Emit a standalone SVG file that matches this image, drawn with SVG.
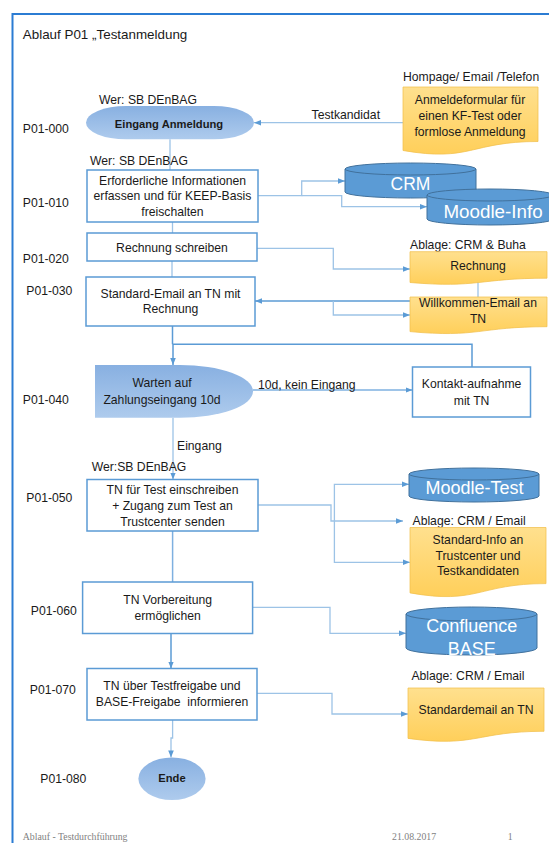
<svg xmlns="http://www.w3.org/2000/svg" width="549" height="843" viewBox="0 0 549 843">
<style>
text{font-family:"Liberation Sans",Arial,sans-serif;font-size:12.2px;fill:#1a1a1a}
.c{text-anchor:middle}
.b{font-weight:bold;font-size:11.2px}
.box{fill:#fff;stroke:#5B9BD5;stroke-width:1.5}
.doc{fill:url(#gy);stroke:#F2C04E;stroke-width:0.75}
.cyl{fill:#5B9BD5;stroke:#41719C;stroke-width:1}
.cyt{fill:#fff;font-size:18px;text-anchor:middle}
.term{fill:url(#gb);stroke:none}
.l{fill:none;stroke:#9DC3E6;stroke-width:1.3}
.m{fill:none;stroke:#5B9BD5;stroke-width:1.5}
.ah{marker-end:url(#arr)}
.foot{font-family:"Liberation Serif",serif;font-size:9.8px;fill:#7F7F7F}
</style>
<defs>
<linearGradient id="gb" x1="0" y1="0" x2="0" y2="1"><stop offset="0" stop-color="#88B0E1"/><stop offset="1" stop-color="#AECBED"/></linearGradient>
<linearGradient id="gy" x1="0" y1="0" x2="0" y2="1"><stop offset="0" stop-color="#FFE08E"/><stop offset="1" stop-color="#FFCF5A"/></linearGradient>
<marker id="arr" markerUnits="userSpaceOnUse" markerWidth="7" markerHeight="7" viewBox="0 0 10 10" refX="10" refY="5" orient="auto"><path d="M0,1 L10,5 L0,9 Z" fill="#5B9BD5"/></marker>
</defs>
<rect width="549" height="843" fill="#fff"/>
<path d="M12.5,843 V14 H549" fill="none" stroke="#2B7CD3" stroke-width="2"/>
<text x="22.8" y="39" style="font-size:13.4px">Ablauf P01 „Testanmeldung</text>

<g id="connectors">
<path class="l ah" d="M403,122.7 H254"/>
<path class="l" d="M170,139.3 V170"/>
<path class="l ah" d="M258,195.7 H301.7 V181 H345"/>
<path class="l ah" d="M301.7,195.7 H341.7 V206.7 H427"/>
<path class="l" d="M172.5,222 V233"/>
<path class="l" d="M172,261 V277"/>
<path class="l ah" d="M257,248.3 H333.3 V269 H410"/>
<path class="l" d="M478,281 V297"/>
<path class="m ah" d="M410,301 H255"/>
<path class="l ah" d="M333.3,301 V315 H410"/>
<path class="m" d="M172.5,326 V344.3"/>
<path class="m ah" d="M472,367 V344.3 H173 V365"/>
<path class="m ah" d="M253,390 H412.5" style="stroke:#7EB0E0"/>
<path class="l ah" d="M173,417.7 V479.5"/>
<path class="l ah" d="M258,505 H331 V521 H403"/>
<path class="l ah" d="M334.4,505 V484.3 H409"/>
<path class="l ah" d="M334.4,505 V562.3 H410"/>
<path class="m" d="M172.6,531 V582" style="stroke:#7EB0E0"/>
<path class="l ah" d="M252.6,607.3 H330 V633.3 H406"/>
<path class="m ah" d="M171,633.5 V668.5"/>
<path class="l ah" d="M257,693.3 H332 V714 H408"/>
<path class="l ah" d="M172.6,720 V738 H171 V757.4"/>
</g>

<g id="src1">
<text x="403" y="81">Hompage/ Email /Telefon</text>
<path class="doc" d="M403,87 H538 V141.5 C470.5,141.5 470.5,162.3 403,150.5 Z"/>
<text class="c" x="470" y="104.3">Anmeldeformular für</text>
<text class="c" x="470" y="120.3">einen KF-Test oder</text>
<text class="c" x="470" y="136">formlose Anmeldung</text>
</g>
<text x="311.6" y="118.6">Testkandidat</text>

<g id="p000">
<text x="22.8" y="132.6">P01-000</text>
<text x="99" y="103.6">Wer: SB DEnBAG</text>
<rect class="term" x="86" y="106" width="168" height="33.3" rx="40" ry="16.65"/>
<text class="c b" x="169" y="127.6">Eingang Anmeldung</text>
</g>

<g id="p010">
<text x="22.8" y="207">P01-010</text>
<text x="90" y="165">Wer: SB DEnBAG</text>
<rect class="box" x="87" y="170" width="171" height="52"/>
<text class="c" x="172.5" y="185">Erforderliche Informationen</text>
<text class="c" x="172.5" y="200.3">erfassen und für KEEP-Basis</text>
<text class="c" x="172.5" y="216">freischalten</text>
</g>

<g id="crm">
<path class="cyl" d="M345,169 A65.5,6 0 0 1 476,169 V192 A65.5,6 0 0 1 345,192 Z"/>
<path d="M345,169 A65.5,6 0 0 0 476,169" fill="none" stroke="#41719C" stroke-width="1"/>
<text class="cyt" x="410.5" y="190" style="font-size:17.5px">CRM</text>
</g>
<g id="moodleinfo">
<path class="cyl" d="M427,195 A63,6 0 0 1 553,195 V219 A63,6 0 0 1 427,219 Z"/>
<path d="M427,195 A63,6 0 0 0 553,195" fill="none" stroke="#41719C" stroke-width="1"/>
<text class="cyt" x="493" y="218.3" style="font-size:18.8px">Moodle-Info</text>
</g>

<g id="p020">
<text x="22.8" y="263.3">P01-020</text>
<rect class="box" x="87" y="233" width="170" height="28"/>
<text class="c" x="172" y="252.3">Rechnung schreiben</text>
</g>

<g id="rechnung">
<text x="410" y="249">Ablage: CRM &amp; Buha</text>
<path class="doc" d="M410,251.7 H547 V278.2 C478.5,278.2 478.5,288.3 410,282.5 Z"/>
<text class="c" x="478" y="270">Rechnung</text>
</g>

<g id="willkommen">
<path class="doc" d="M410,297 H547 V326.7 C478.5,326.7 478.5,338 410,331.6 Z"/>
<text class="c" x="478" y="307.3">Willkommen-Email an</text>
<text class="c" x="478" y="323.3">TN</text>
</g>

<g id="p030">
<text x="26.3" y="295.3">P01-030</text>
<rect class="box" x="86" y="277" width="169" height="49"/>
<text class="c" x="170.5" y="298.3">Standard-Email an TN mit</text>
<text class="c" x="170.5" y="313.3">Rechnung</text>
</g>

<g id="p040">
<text x="22.8" y="404.3">P01-040</text>
<path class="term" d="M95,365 H180 A73,26.35 0 0 1 180,417.7 H95 Z"/>
<text class="c" x="162" y="387">Warten auf</text>
<text class="c" x="162" y="403.6">Zahlungseingang 10d</text>
</g>
<text x="258" y="389.3">10d, kein Eingang</text>

<g id="kontakt">
<rect class="box" x="412.5" y="367" width="118" height="50"/>
<text class="c" x="471.6" y="388.3">Kontakt-aufnahme</text>
<text class="c" x="471.6" y="405">mit TN</text>
</g>

<text x="177" y="450.3">Eingang</text>

<g id="p050">
<text x="26.3" y="501.6">P01-050</text>
<text x="91.7" y="471.3">Wer:SB DEnBAG</text>
<rect class="box" x="87" y="479.5" width="171" height="51.5"/>
<text class="c" x="172.5" y="494.3">TN für Test einschreiben</text>
<text class="c" x="172.5" y="509.6">+ Zugang zum Test an</text>
<text class="c" x="172.5" y="526">Trustcenter senden</text>
</g>

<g id="moodletest">
<path class="cyl" d="M409,474 A65,6 0 0 1 539,474 V496 A65,6 0 0 1 409,496 Z"/>
<path d="M409,474 A65,6 0 0 0 539,474" fill="none" stroke="#41719C" stroke-width="1"/>
<text class="cyt" x="474.5" y="494">Moodle-Test</text>
</g>

<g id="standardinfo">
<text x="412.5" y="525.3">Ablage: CRM / Email</text>
<path class="doc" d="M410,527.5 H546 V583.6 C478,583.6 478,605 410,592.9 Z"/>
<text class="c" x="478" y="544.3">Standard-Info an</text>
<text class="c" x="478" y="559.6">Trustcenter und</text>
<text class="c" x="478" y="575">Testkandidaten</text>
</g>

<g id="p060">
<text x="30.8" y="615">P01-060</text>
<rect class="box" x="82.6" y="582" width="170" height="51.5"/>
<text class="c" x="167.6" y="604.3">TN Vorbereitung</text>
<text class="c" x="167.6" y="620">ermöglichen</text>
</g>

<g id="confluence">
<path class="cyl" d="M406,614 A65.5,7 0 0 1 537,614 V648 A65.5,7 0 0 1 406,648 Z"/>
<path d="M406,614 A65.5,7 0 0 0 537,614" fill="none" stroke="#41719C" stroke-width="1"/>
<text class="cyt" x="471.7" y="631.7">Confluence</text>
<text class="cyt" x="471.7" y="654.5">BASE</text>
</g>

<g id="p070">
<text x="29.8" y="693.6">P01-070</text>
<rect class="box" x="87" y="668.5" width="170" height="51.5"/>
<text class="c" x="172" y="690.3">TN über Testfreigabe und</text>
<text class="c" x="172" y="706" xml:space="preserve">BASE-Freigabe  informieren</text>
</g>

<g id="standardemail">
<text x="411.4" y="680">Ablage: CRM / Email</text>
<path class="doc" d="M408,688 H544 V731.3 C476,731.3 476,747.8 408,738.4 Z"/>
<text class="c" x="476" y="713.6">Standardemail an TN</text>
</g>

<g id="p080">
<text x="40.3" y="783.3">P01-080</text>
<ellipse class="term" cx="172" cy="778.7" rx="33.6" ry="21.3"/>
<text class="c b" x="172" y="781.7">Ende</text>
</g>

<g id="footer">
<text class="foot" x="22.8" y="840">Ablauf - Testdurchführung</text>
<text class="foot" x="392" y="840">21.08.2017</text>
<text class="foot" x="507.7" y="840">1</text>
</g>
</svg>
